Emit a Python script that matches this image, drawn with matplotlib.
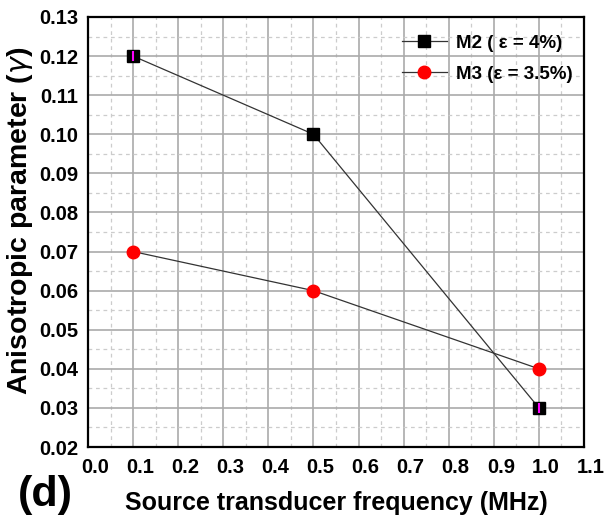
import matplotlib
matplotlib.use("Agg")
import matplotlib.pyplot as plt
import matplotlib.transforms as mtransforms
from matplotlib.ticker import MultipleLocator
import numpy as np

plt.rcParams['font.family'] = ['Liberation Sans', 'DejaVu Sans']

freq = [0.1, 0.5, 1.0]
m2 = [0.12, 0.10, 0.03]
m3 = [0.07, 0.06, 0.04]
m2_err = [0.0012, 0.0, 0.0012]
xticks = [round(0.1 * i, 1) for i in range(12)]
yticks = [round(0.02 + 0.01 * i, 2) for i in range(12)]

fig = plt.figure(figsize=(6.04, 5.18), dpi=100)
ax = fig.add_axes([88/604, 1-447/518, (584-88)/604, (447-17)/518])

ax.set_xlim(0.0, 1.1)
ax.set_ylim(0.02, 0.13)
ax.xaxis.set_minor_locator(MultipleLocator(0.05))
ax.yaxis.set_minor_locator(MultipleLocator(0.005))
ax.set_xticks(xticks)
ax.set_yticks(yticks)
ax.set_xticklabels([f"{v:.1f}" for v in xticks])
ax.set_yticklabels([f"{v:.2f}" for v in yticks])
ax.grid(which='major', color='#aaaaaa', linewidth=1.2, linestyle='-')
ax.grid(which='minor', color='#cccccc', linewidth=0.9, linestyle=(0, (3, 3)))
ax.set_axisbelow(True)
ax.tick_params(which='both', length=0)
ax.tick_params(axis='x', pad=8, labelsize=14.5)
ax.tick_params(axis='y', pad=7, labelsize=14.5)
offset = mtransforms.ScaledTranslation(7/100, 0, fig.dpi_scale_trans)
for lab in ax.get_xticklabels():
    lab.set_fontweight('bold')
    lab.set_transform(lab.get_transform() + offset)
for lab in ax.get_yticklabels():
    lab.set_fontweight('bold')
for s in ax.spines.values():
    s.set_linewidth(1.6)
    s.set_color('black')

ax.errorbar(freq, m2, yerr=m2_err, fmt='none', ecolor='#ff00ff', elinewidth=1.5, capsize=0, zorder=5)
ax.plot(freq, m2, color='#333333', linewidth=0.9, marker='s', markersize=8,
        markerfacecolor='black', markeredgecolor='black', label='M2 ( ε = 4%)', zorder=4)
ax.plot(freq, m3, color='#333333', linewidth=0.9, marker='o', markersize=9,
        markerfacecolor='red', markeredgecolor='red', label='M3 (ε = 3.5%)', zorder=4)

leg = ax.legend(loc='upper right', frameon=False, prop={'weight': 'bold', 'size': 13.5},
                handlelength=2.4, borderaxespad=0.2, labelspacing=0.75, handletextpad=0.5,
                bbox_to_anchor=(1.0, 0.985))

ax.set_xlabel('Source transducer frequency (MHz)', fontsize=18, fontweight='bold', labelpad=10)
ax.set_ylabel(r'Anisotropic parameter ($\gamma$)', fontsize=20.5, fontweight='bold')
ax.yaxis.set_label_coords(-0.106, 0.525)
fig.text(18/604, 1-495/518, '(d)', fontsize=31, fontweight='bold', va='center', ha='left')

fig.savefig('out.png', dpi=100)
